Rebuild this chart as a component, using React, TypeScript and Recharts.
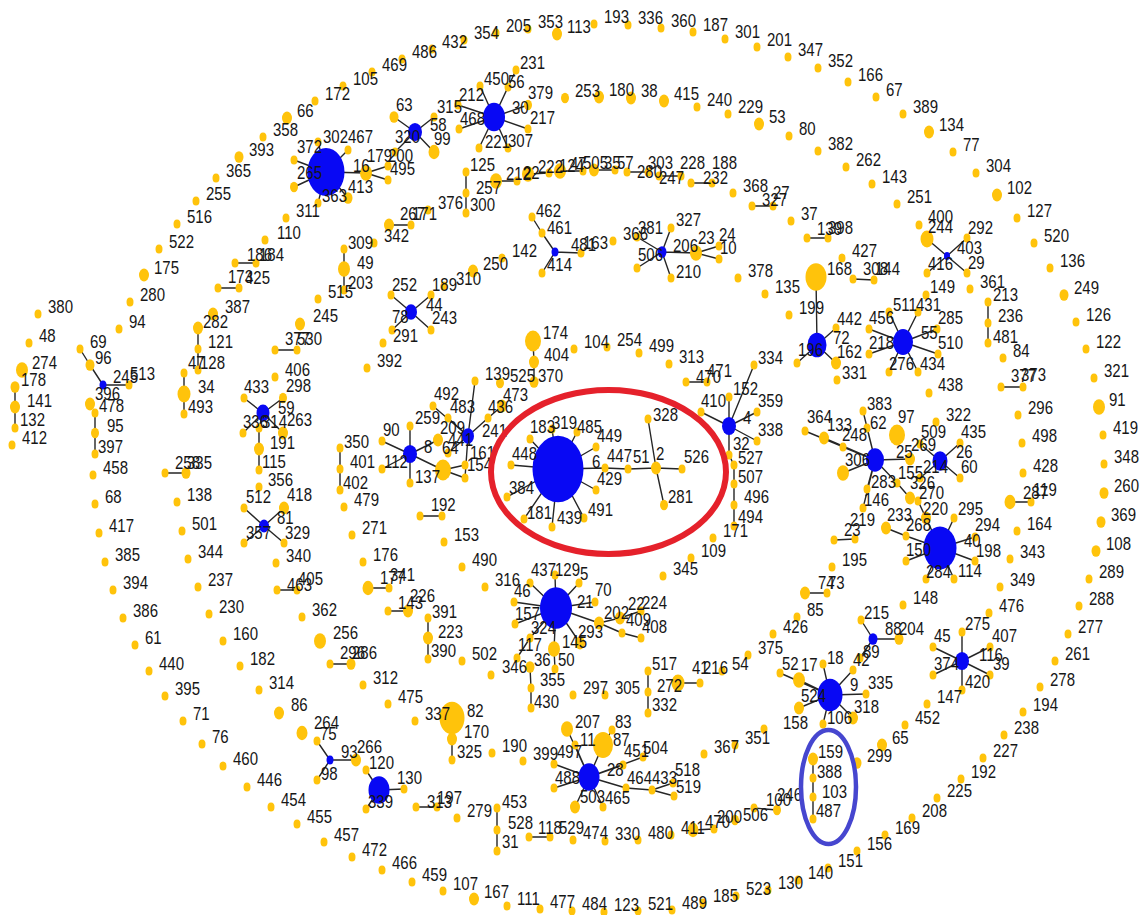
import React from 'react';
import { ComposedChart, Scatter, Line, XAxis, YAxis } from 'recharts';

// Node tuple: [id, layoutX, layoutY, weight(radius), labelDx, labelDy]
type NodeT = [string, number, number, number?, number?, number?];
type EdgeT = [string, string];

const W = 1141;
const H = 915;

const hubs: NodeT[] = [
  ['6', 558, 469, 25.5, 34, -7], ['16', 326, 172, 18.5, 27, -6], ['40', 940, 548, 16.5, 24, -7],
  ['21', 556, 608, 16, 21, -6], ['9', 830, 695, 12.5, 20, -10], ['30', 494, 117, 11, 18, -9],
  ['130#2', 379, 790, 10.5, 18, -12], ['28', 589, 777, 10.5, 18, -7], ['55', 903, 342, 10, 18, -9],
  ['72', 817, 345, 9.5, 16, -7], ['25', 875, 460, 9, 21, -8], ['26', 940, 461, 7.5, 16, -9],
  ['4', 729, 426, 7, 14, -8], ['116', 962, 661, 7, 17, -6], ['58', 415, 132, 7, 15, -7],
  ['8', 410, 454, 7, 14, -7], ['59', 263, 413, 6.5, 15, -5], ['241', 468, 436, 6, 14, -5],
  ['44', 411, 312, 6, 15, -7], ['81', 264, 526, 5, 13, -8], ['206', 662, 252, 4.5, 11, -6],
  ['88', 873, 639, 4.5, 12, -10], ['481#2', 555, 252, 3.5, 16, -7], ['245#2', 103, 385, 3.5, 10, -8],
  ['93', 330, 760, 3.5, 11, -8], ['403', 947, 256, 3, 10, -8],
];

const outerRing: NodeT[] = [
  ['94', 119, 329], ['280', 130, 302], ['175', 144, 275, 5], ['522', 159, 249], ['516', 177, 224], ['255', 196, 201],
  ['365', 216, 178], ['393', 239, 157, 4.5], ['358', 263, 137], ['66', 287, 118, 5], ['172', 315, 101], ['105', 343, 86],
  ['469', 372, 72], ['486', 402, 59], ['432', 432, 49], ['354', 464, 40], ['205', 496, 33], ['353', 528, 29],
  ['113', 557, 34, 5], ['193', 594, 24], ['336', 628, 25], ['360', 661, 28], ['187', 693, 32], ['301', 725, 39],
  ['201', 757, 47], ['347', 788, 57], ['352', 818, 68], ['166', 848, 82], ['67', 876, 97], ['389', 903, 114],
  ['134', 929, 132, 5], ['77', 953, 152], ['304', 976, 173], ['102', 997, 195, 5], ['127', 1017, 218], ['520', 1034, 243],
  ['136', 1050, 268], ['249', 1064, 295, 4.5], ['126', 1076, 322], ['122', 1086, 349], ['321', 1094, 378], ['91', 1099, 407, 6],
  ['419', 1103, 435], ['348', 1104, 464], ['260', 1104, 493, 4.5], ['369', 1101, 522, 4.5], ['108', 1096, 551, 4.5], ['289', 1089, 579],
  ['288', 1079, 606], ['277', 1068, 634], ['261', 1055, 661], ['278', 1040, 687], ['194', 1023, 712], ['238', 1004, 735],
  ['227', 983, 758], ['192', 961, 779], ['225', 937, 798], ['208', 912, 818], ['169', 885, 835], ['156', 857, 851],
  ['151', 828, 868], ['140', 798, 880], ['130', 768, 890], ['523', 736, 896], ['185', 703, 903], ['489', 672, 910],
  ['521', 638, 911], ['123', 604, 912], ['484', 572, 911], ['477', 540, 909], ['111', 507, 906], ['167', 474, 899, 5],
  ['107', 443, 891], ['459', 412, 882], ['466', 382, 870], ['472', 352, 857], ['457', 324, 842], ['455', 297, 824],
  ['454', 271, 807], ['446', 247, 787], ['460', 223, 766], ['76', 202, 744], ['71', 183, 721], ['395', 165, 696],
  ['440', 149, 671], ['61', 135, 645], ['386', 123, 618], ['394', 113, 590], ['385', 105, 562], ['417', 99, 533],
  ['68', 95, 504], ['458', 93, 475],
];

const leftNodes: NodeT[] = [
  ['380', 38, 314], ['48', 29, 343], ['274', 22, 370, 6], ['178', 15, 387, 4.5, 6, -7], ['141', 15, 407, 5, 12, -6],
  ['132', 15, 428, 3.5, 5, -8], ['412', 12, 445], ['69', 80, 349], ['96', 90, 365, 4.5, 5, -7], ['513', 129, 385, 3.5, 1, -11],
  ['396', 90, 404, 5, 5, -10], ['478', 95, 413, 3.5, 4, -7], ['95', 95, 433, 4, 12, -7], ['397', 95, 454, 3.5, 3, -7],
];

const ringB: NodeT[] = [
  ['311', 286, 218], ['110', 265, 240, 3.5, 12, -7], ['186', 235, 263, 3.5, 12, -8], ['184', 256, 263, 3.5, 3, -8],
  ['173', 218, 288, 3.5, 10, -11], ['425', 239, 288, 3.5, 6, -10], ['387', 213, 314, 5, 12, -7], ['282', 198, 328, 5, 5, -6],
  ['121', 198, 349, 3.5, 10, -7], ['128', 198, 370, 3.5, 2, -7], ['47', 184, 373, 3.5, 4, -10], ['34', 184, 394, 6.5, 14, -7],
  ['493', 184, 414, 3.5, 4, -7], ['258', 165, 473, 3.5, 10, -10], ['335#2', 186, 473, 4.5, 1, -10], ['138', 177, 502],
  ['501', 182, 531], ['344', 188, 559], ['237', 198, 587], ['230', 209, 614], ['160', 223, 641], ['182', 240, 666],
  ['314', 259, 690], ['86', 279, 713, 5, 12, -8], ['264', 302, 733, 5.5, 12, -10], ['75', 317, 741, 3.5, 3, -7],
  ['266', 356, 760, 5, 1, -13], ['98', 317, 780, 3.5, 4, -6], ['120', 366, 770, 3.5, 3, -7], ['339', 366, 809, 3.5, 2, -7],
  ['~1', 404, 789, 3.5], ['313#2', 416, 807, 3.5, 11, -5], ['197', 437, 807, 3.5, 0, -9], ['279', 457, 818],
  ['453', 497, 808, 3.5, 5, -6], ['528', 497, 830, 3.5, 11, -7], ['31', 497, 851, 3.5, 5, -9], ['118', 529, 837, 3.5, 9, -9],
  ['529', 550, 837, 3.5, 9, -9], ['474', 573, 840], ['330', 605, 841], ['480', 638, 840], ['411', 671, 835],
  ['470#2', 693, 830, 5.5, 12, -8], ['200#2', 714, 829, 3.5, 3, -12], ['506', 735, 820, 4, 8, -5], ['100', 754, 808, 3.5, 12, -8],
  ['246', 777, 810, 4, 0, -15], ['159', 813, 759, 5, 5, -7], ['388', 813, 778, 3.5, 4, -6], ['103', 813, 797, 3.5, 9, -5],
  ['487', 813, 819, 3.5, 3, -8], ['299', 857, 763, 4.5], ['65', 882, 745, 5], ['452', 905, 725], ['147', 927, 704],
  ['275', 962, 632, 3.5, 3, -8], ['407', 990, 647, 3.5, 2, -11], ['39', 990, 675, 3.5, 3, -11], ['420', 962, 690, 3.5, 3, -8],
  ['45', 933, 647, 3.5, 1, -11], ['374', 933, 675, 3.5, 1, -11], ['476', 989, 613], ['349', 1000, 587], ['343', 1010, 559],
  ['164', 1017, 531], ['287', 1010, 502, 5.5, 13, -9], ['119', 1031, 502, 3.5, 2, -12], ['428', 1023, 473], ['498', 1022, 443],
  ['296', 1018, 415], ['377', 1001, 387, 3.5, 10, -11], ['373', 1023, 387, 3.5, -2, -12], ['84', 1003, 358],
  ['481', 988, 343, 3.5, 5, -6], ['236', 988, 323], ['213', 988, 302, 3.5, 5, -7], ['361', 970, 289],
  ['400', 919, 225, 3.5, 9, -8], ['244', 927, 239, 6.5, 1, -12], ['292', 967, 238, 3.5, 1, -10], ['29', 967, 273, 3.5, 1, -10],
  ['416', 927, 273, 3.5, 1, -9], ['251', 897, 204], ['143', 872, 184], ['262', 846, 167], ['382', 818, 151], ['80', 789, 136],
  ['53', 759, 124, 5], ['229', 728, 114], ['240', 697, 107], ['415', 664, 101, 5], ['38', 631, 98, 5], ['180', 599, 97, 5],
  ['253', 565, 98, 4],
];

const topNodes: NodeT[] = [
  ['302', 318, 142, 3.5, 5, -5], ['467', 348, 150, 3.5, 0, -13], ['372', 294, 160, 3.5, 3, -13], ['265', 294, 187, 4, 3, -14],
  ['363', 318, 203, 3.5, 4, -7], ['413', 348, 198, 4.5, 0, -11], ['179', 366, 173, 6, 1, -17], ['200', 388, 166, 3.5, 0, -10],
  ['495', 388, 180, 3.5, 2, -11], ['63', 394, 117, 4.5, 2, -12], ['315', 434, 117, 3.5, 3, -10], ['99', 434, 152, 5.5, 0, -13],
  ['320', 395, 152, 3.5, 0, -15], ['231', 516, 70, 3.5, 4, -7], ['450', 480, 86, 3.5, 4, -7], ['56', 508, 87, 3.5, 0, -5],
  ['379', 528, 105, 4, 0, -12], ['217', 528, 129, 3.5, 2, -11], ['307', 508, 148, 3.5, 0, -7], ['221', 479, 148, 3.5, 6, -6],
  ['468', 459, 129, 3.5, 1, -10], ['212', 458, 105, 3.5, 1, -10], ['125', 466, 172, 3.5, 4, -7], ['257', 466, 193, 3.5, 10, -5],
  ['300', 466, 213, 3.5, 4, -8], ['376', 428, 210], ['267', 389, 225, 5, 11, -11], ['171#2', 411, 225, 3.5, 1, -11],
  ['342', 374, 243], ['309', 344, 249, 3.5, 4, -6], ['49', 344, 269, 6, 13, -6], ['203', 344, 290, 3.5, 4, -7], ['515', 318, 299],
  ['142', 502, 258], ['250', 473, 271, 5], ['310', 444, 286, 3.5, 12, -7], ['189', 431, 295, 3.5, 1, -10],
  ['252', 391, 295, 3.5, 1, -10], ['78', 392, 330, 3.5, 0, -13], ['243', 431, 330, 3.5, 1, -12], ['291', 383, 343],
  ['392', 367, 368], ['245', 300, 324, 5, 13, -8], ['377#2', 275, 350, 3.5, 10, -11], ['530', 297, 350, 3.5, 0, -11],
  ['406', 275, 377], ['462', 532, 217, 3.5, 4, -6], ['461', 542, 233, 3.5, 5, -5], ['414', 542, 273, 3.5, 5, -8],
  ['163', 581, 253, 3.5, 2, -10], ['366', 613, 241], ['381', 637, 237, 3.5, 1, -9], ['327', 671, 228, 3.5, 5, -8],
  ['23', 696, 253, 6, 2, -15], ['24', 719, 246, 3.5, 0, -11], ['10', 719, 259, 3.5, 1, -11], ['210', 671, 278, 3.5, 5, -6],
  ['506#2', 637, 268, 3.5, 1, -13],
  ['212#r', 496, 181, 6], ['22#r', 517, 181, 3.5, 6, -8], ['222#r', 528, 174, 6], ['124#r', 549, 173], ['47#r', 560, 171, 6],
  ['505', 583, 171, 3.5, 0, -8], ['35#r', 594, 170, 5], ['57', 615, 170, 3.5, 2, -7], ['280#r', 627, 172, 3.5, 10, 0],
  ['303', 648, 172, 3.5, 0, -9], ['247', 659, 176, 3.5, 0, 2], ['228', 681, 176, 3.5, -1, -13], ['232#r', 691, 183, 3.5, 12, -5],
  ['188', 712, 183, 3.5, 0, -20],
  ['368', 733, 193], ['327#2', 752, 206, 3.5, 10, -6], ['27', 773, 206, 3.5, 0, -13], ['37', 791, 221],
  ['139#2', 807, 238, 3.5, 10, -9], ['398', 828, 238, 3.5, 0, -10], ['378', 738, 278], ['135', 765, 294], ['427', 842, 258],
  ['308', 853, 279, 3.5, 10, -10], ['144', 874, 280, 3.5, 1, -11], ['168', 816, 277, 10.5, 11, -8], ['199', 789, 315],
  ['149', 926, 295, 3.5, 4, -8],
];

const midLeftNodes: NodeT[] = [
  ['433', 244, 398, 3.5, 0, -11], ['298', 283, 398, 4, 3, -12], ['336#2', 243, 433, 3.5, 0, -11], ['263', 283, 433, 5, 4, -13],
  ['314#2', 259, 428, 3.5, 3, -6], ['191', 259, 449, 5, 11, -6], ['115', 259, 470, 3.5, 3, -8], ['356', 259, 487, 3.5, 9, -7],
  ['512', 244, 508, 3.5, 2, -11], ['418', 284, 508, 5, 3, -13], ['357', 244, 543, 3.5, 2, -10], ['329', 284, 543, 3.5, 1, -10],
  ['340', 276, 563], ['463', 277, 590, 3.5, 10, -5], ['405', 297, 590, 3.5, 1, -11], ['362', 302, 617],
  ['256', 320, 641, 6, 13, -8], ['296#2', 330, 664, 3.5, 10, -11], ['286', 351, 664, 4.5, 1, -11], ['312', 363, 685],
  ['475', 388, 704], ['337', 415, 721], ['82', 452, 718, 12.5, 15, -7], ['170', 452, 739, 5, 12, -7], ['325', 452, 760, 3.5, 5, -8],
  ['190', 492, 753], ['399', 523, 761], ['350', 340, 448, 3.5, 4, -6], ['401', 340, 469], ['402', 340, 490, 3.5, 3, -7],
  ['479', 344, 507], ['1', 420, 516, 3.5, 11, -11], ['92', 442, 516, 3.5, -3, -11], ['271', 352, 535], ['153', 444, 542],
  ['490', 462, 567], ['176', 363, 562], ['177', 368, 588, 5.5, 12, -10], ['341', 389, 588, 3.5, 1, -13], ['316', 485, 587],
  ['143#2', 388, 611, 3.5, 10, -8], ['226', 408, 611, 5, 2, -15], ['391', 428, 618, 3.5, 4, -6], ['223', 428, 638, 5, 10, -6],
  ['390', 428, 659, 3.5, 3, -8], ['502', 462, 661], ['492', 433, 406, 3.5, 1, -12], ['483', 448, 418, 3.5, 2, -11],
  ['209', 438, 440, 5, 2, -12], ['441', 448, 453, 3.5, 0, -13], ['161', 465, 465, 3.5, 5, -12], ['154', 465, 478, 3.5, 2, -13],
  ['139', 475, 381], ['436', 488, 418, 3.5, 0, -11], ['473', 502, 406, 5, 1, -11], ['259', 410, 426, 3.5, 5, -8],
  ['90', 382, 441, 3.5, 1, -11], ['112', 382, 469, 3.5, 2, -7], ['137', 410, 483, 3.5, 5, -6], ['64', 443, 470, 8, -1, -22],
  ['174', 533, 341, 8, 10, -8], ['404', 534, 362, 5], ['370', 534, 382, 4.5, 4, -6], ['525', 500, 383, 4],
];

const centerNodes: NodeT[] = [
  ['104', 574, 349], ['254', 607, 347], ['499', 639, 353], ['313', 669, 364], ['470', 686, 382, 3.5, 10, -5],
  ['471', 707, 382, 3.5, 0, -11], ['410', 701, 412, 3.5, 0, -11], ['152', 729, 397, 3.5, 4, -8], ['334', 754, 365, 3.5, 4, -7],
  ['359', 757, 412, 3.5, 1, -11], ['338', 757, 441, 3.5, 1, -11], ['32', 729, 455, 3.5, 4, -11], ['527', 734, 465, 3.5, 4, -7],
  ['507', 734, 484, 3.5, 4, -7], ['496', 734, 505, 3.5, 10, -8], ['494', 734, 526, 3.5, 4, -9], ['171', 713, 538],
  ['109', 691, 558], ['345', 663, 576], ['183', 530, 439, 3.5, 0, -12], ['319', 552, 429, 3.5, 0, -6],
  ['485', 577, 432, 3.5, 0, -5], ['449', 596, 447, 3.5, 1, -11], ['448', 511, 465, 3.5, 1, -11], ['447', 605, 468, 3.5, 2, -12],
  ['51', 628, 469, 3.5, 5, -12], ['2', 656, 468, 5, 0, -14], ['328', 648, 419, 3.5, 5, -4], ['526', 682, 469, 3.5, 2, -12],
  ['281', 664, 505, 4, 4, -8], ['429', 596, 490, 3.5, 1, -11], ['491', 584, 518, 3.5, 4, -8], ['439', 552, 527, 3.5, 5, -9],
  ['181', 524, 519, 3.5, 3, -6], ['384', 507, 497, 3.5, 2, -9],
];

const rightNodes: NodeT[] = [
  ['511', 889, 312, 3.5, 4, -7], ['431', 918, 312, 3.5, -2, -7], ['456', 869, 329, 3.5, 0, -11], ['285', 937, 329, 3.5, 1, -11],
  ['218', 869, 354, 3.5, 0, -11], ['510', 938, 354, 3.5, 0, -11], ['276', 889, 372, 3.5, 0, -8], ['434', 918, 372, 3.5, 2, -8],
  ['438', 929, 393, 3.5, 9, -8], ['442', 836, 328, 3.5, 1, -9], ['196', 797, 363, 3.5, 1, -13], ['162', 836, 363, 5, 1, -11],
  ['331', 837, 380, 3.5, 5, -7], ['364', 805, 431, 3.5, 2, -14], ['133', 824, 438, 5, 3, -13], ['248', 843, 447, 3.5, -1, -12],
  ['383', 863, 411, 3.5, 4, -7], ['62', 867, 428, 3.5, 3, -5], ['97', 897, 435, 8, 1, -18], ['269', 910, 459, 5, 1, -14],
  ['306', 843, 473, 6, 2, -13], ['155', 897, 483, 3.5, 1, -10], ['283', 867, 489, 3.5, 4, -7], ['146', 863, 508, 3.5, 1, -8],
  ['326', 910, 498, 5, 0, -15], ['270', 918, 501, 3.5, 1, -8], ['509', 920, 444, 3.5, 1, -12], ['322', 936, 422],
  ['435', 960, 443, 3.5, 1, -11], ['60', 960, 478, 3.5, 1, -11], ['214', 920, 478, 3.5, 3, -11], ['220', 926, 518, 5, -3, -9],
  ['295', 954, 518, 3.5, 4, -9], ['294', 975, 537, 3.5, 0, -12], ['198', 975, 561, 3.5, 1, -10], ['114', 954, 579, 3.5, 4, -8],
  ['284', 926, 579, 3.5, 0, -7], ['150', 906, 561, 3.5, 0, -11], ['268', 906, 536, 3.5, 0, -11], ['233', 886, 528, 5, 1, -13],
  ['23#2', 834, 540, 3.5, 10, -10], ['219', 855, 539, 3.5, -5, -19], ['195', 832, 567], ['74', 805, 593, 5, 13, -10],
  ['73', 827, 593, 3.5, 1, -10], ['85', 797, 617], ['148', 903, 605], ['426', 773, 634], ['375', 748, 655], ['54', 722, 671],
  ['52', 780, 673, 3.5, 2, -9], ['17', 799, 680, 6, 2, -15], ['18', 823, 664, 3.5, 4, -6], ['42', 853, 670, 3.5, 0, -10],
  ['335', 866, 694, 3.5, 2, -11], ['318', 853, 718, 5, 1, -11], ['106', 823, 724, 3.5, 4, -6], ['524', 799, 708, 5, 2, -12],
  ['215', 861, 620, 3.5, 3, -7], ['204', 899, 639, 4.5, 0, -10], ['89', 860, 658, 3.5, 3, -6], ['158', 764, 729, 3.5, 19, -6],
  ['351', 735, 745], ['367', 704, 754], ['41', 678, 683, 6.5, 14, -15], ['216', 700, 683, 3.5, 3, -15],
  ['517', 648, 671, 3.5, 4, -7], ['272', 648, 692, 3.5, 9, -6], ['332', 648, 713, 3.5, 4, -8], ['297', 573, 695], ['305', 605, 695],
];

const bottomNodes: NodeT[] = [
  ['437', 530, 583, 3.5, 1, -13], ['129', 555, 575, 3.5, 0, -5], ['5', 579, 583, 3.5, 1, -9], ['46', 514, 602, 3.5, 0, -11],
  ['70', 595, 602, 3.5, 0, -12], ['157', 515, 624, 3.5, 0, -10], ['324', 530, 638, 3.5, 1, -10], ['117', 517, 658, 3.5, 1, -13],
  ['346', 491, 675, 3.5, 11, -8], ['36', 530, 667, 4.5, 4, -7], ['355', 531, 688, 3.5, 9, -8], ['430', 531, 708, 3.5, 3, -6],
  ['145', 554, 649, 6, 8, -7], ['50', 555, 669, 3.5, 3, -9], ['202', 599, 623, 5, 5, -10], ['22', 620, 618, 5, 8, -14],
  ['224', 641, 611, 3.5, 1, -8], ['409', 622, 633, 3.5, 4, -13], ['408', 641, 638, 3.5, 1, -11], ['293', 580, 643, 5, -2, -11],
  ['207', 567, 729, 6, 8, -7], ['83', 612, 730, 3.5, 3, -8], ['87', 603, 745, 10, 10, -5], ['11', 575, 745, 3.5, 5, -5],
  ['451', 623, 765, 3.5, 1, -14], ['504', 643, 757, 3.5, 0, -9], ['464', 626, 788, 3.5, 1, -10], ['433#2', 652, 790, 3.5, 0, -12],
  ['518', 673, 783, 3.5, 2, -13], ['519', 674, 796, 3.5, 2, -9], ['503', 575, 807, 5, 5, -10], ['465', 603, 807, 3.5, 2, -9],
  ['497', 554, 764, 3.5, 3, -12], ['488', 554, 788, 3.5, 1, -10],
];

const star = (hub: string, leaves: string[]): EdgeT[] => leaves.map((l) => [hub, l] as EdgeT);

const edges: EdgeT[] = [
  ['178', '141'], ['141', '132'], ['69', '96'], ['96', '245#2'], ['245#2', '513'], ['478', '95'], ['95', '397'],
  ['186', '184'], ['173', '425'], ['282', '121'], ['121', '128'], ['47', '34'], ['34', '493'], ['258', '335#2'],
  ...star('93', ['75', '266', '98']), ...star('130#2', ['120', '339', '~1']), ['313#2', '197'], ['453', '528'], ['528', '31'],
  ['118', '529'], ['470#2', '200#2'], ['100', '246'], ['159', '388'], ['388', '103'], ['103', '487'],
  ...star('116', ['275', '407', '39', '420', '45', '374']), ['287', '119'], ['377', '373'], ['213', '236'], ['236', '481'],
  ...star('403', ['244', '292', '29', '416']),
  ...star('16', ['302', '467', '372', '265', '363', '413', '179']), ['179', '200'], ['179', '495'],
  ...star('58', ['63', '315', '99', '320']), ...star('30', ['231', '450', '56', '379', '217', '307', '221', '468', '212']),
  ['125', '257'], ['257', '300'], ['267', '171#2'], ['309', '49'], ['49', '203'], ...star('44', ['252', '189', '78', '243']),
  ['377#2', '530'], ['481#2', '461'], ['461', '462'], ['481#2', '414'], ['481#2', '163'],
  ...star('206', ['381', '327', '23', '210', '506#2']), ['23', '24'], ['23', '10'],
  ['212#r', '22#r'], ['222#r', '124#r'], ['47#r', '505'], ['35#r', '57'], ['280#r', '303'], ['247', '228'], ['232#r', '188'],
  ['327#2', '27'], ['139#2', '398'], ['308', '144'], ['72', '168'],
  ...star('59', ['433', '298', '336#2', '263', '314#2']), ['314#2', '191'], ['191', '115'],
  ...star('81', ['512', '418', '357', '329']), ['463', '405'], ['296#2', '286'], ['82', '170'], ['170', '325'],
  ['350', '401'], ['401', '402'], ['1', '92'], ['177', '341'], ['143#2', '226'], ['391', '223'], ['223', '390'],
  ...star('8', ['259', '90', '112', '137', '64', '209']), ...star('241', ['492', '483', '139', '436', '441', '154']),
  ['436', '473'], ['64', '161'], ['64', '154'], ['174', '404'], ['404', '370'], ['470', '471'],
  ...star('4', ['410', '152', '334', '359', '338', '32']), ['32', '527'], ['527', '507'], ['507', '496'], ['496', '494'],
  ...star('6', ['183', '319', '485', '449', '448', '447', '429', '491', '439', '181', '384']), ['447', '51'], ['51', '2'],
  ...star('2', ['328', '526', '281']),
  ...star('55', ['511', '431', '456', '285', '218', '510', '276', '434']), ...star('72', ['442', '196', '162']),
  ...star('25', ['364', '133', '248', '383', '62', '269', '306', '155', '283', '146']), ['155', '326'],
  ...star('26', ['509', '435', '60', '214']), ...star('40', ['220', '295', '294', '198', '114', '284', '150', '268']),
  ['268', '233'], ['270', '220'], ['23#2', '219'], ['74', '73'],
  ...star('9', ['52', '17', '18', '42', '335', '318', '106', '524']), ...star('88', ['215', '204', '89']),
  ['41', '216'], ['517', '272'], ['272', '332'],
  ...star('21', ['437', '129', '5', '46', '70', '157', '324', '145', '202', '293']), ['324', '117'], ['145', '50'],
  ['36', '355'], ['355', '430'], ['202', '22'], ['22', '224'], ['202', '409'], ['409', '408'],
  ...star('28', ['207', '87', '11', '451', '504', '464', '503', '465', '497', '488']), ['87', '83'], ['464', '433#2'],
  ['433#2', '518'], ['433#2', '519'],
];

const BLUE = '#0808f4';
const YELLOW = '#ffc30b';

type P = { id: string; t: string; x: number; y: number; r: number; hub: boolean; lx: number; ly: number };
const nodeMap = new Map<string, P>();
const mk = (n: NodeT, hub: boolean): P => {
  const p: P = {
    id: n[0],
    t: n[0].startsWith('~') ? '' : n[0].split('#')[0],
    x: n[1],
    y: n[2],
    r: n[3] ?? 3.5,
    hub,
    lx: n[1] + (n[4] ?? 10),
    ly: n[2] + (n[5] ?? -7),
  };
  nodeMap.set(p.id, p);
  return p;
};

const yellowPts = [outerRing, leftNodes, ringB, topNodes, midLeftNodes, centerNodes, rightNodes, bottomNodes]
  .flat()
  .map((n) => mk(n, false));
const hubPts = hubs.map((n) => mk(n, true));
const allPts = [...yellowPts, ...hubPts];
const labelPts = allPts.filter((p) => p.t).map((p) => ({ x: p.lx, y: p.ly, t: p.t }));

const edgePts: { x: number; y: number | null }[] = [];
edges.forEach(([a, b]) => {
  const A = nodeMap.get(a);
  const B = nodeMap.get(b);
  if (!A || !B) return;
  edgePts.push({ x: A.x, y: A.y }, { x: B.x, y: B.y }, { x: B.x, y: null });
});

const highlights = [
  { x: 608.5, y: 472, rx: 117.5, ry: 82, c: '#e5212b', w: 6 },
  { x: 828.5, y: 787, rx: 27.5, ry: 57, c: '#4646cf', w: 4.5 },
];

const NodeShape = (p: any) => {
  const d = p.payload as P;
  return <ellipse cx={p.cx} cy={p.cy} rx={d.r} ry={d.r * 1.3} fill={d.hub ? BLUE : YELLOW} />;
};

const LabelShape = (p: any) => {
  const d = p.payload;
  return (
    <text
      transform={`translate(${p.cx},${p.cy}) scale(1,1.25)`}
      x={0}
      y={0}
      fontSize={15}
      fontFamily="'Liberation Sans', Arial, sans-serif"
      fill="#161616"
      dominantBaseline="central"
    >
      {d.t}
    </text>
  );
};

const RingShape = (p: any) => {
  const d = p.payload;
  return <ellipse cx={p.cx} cy={p.cy} rx={d.rx} ry={d.ry} fill="none" stroke={d.c} strokeWidth={d.w} />;
};

export default function App() {
  return (
    <div style={{ position: 'absolute', left: 0, top: 0, width: W, height: H, background: '#fff' }}>
      <ComposedChart width={W} height={H} margin={{ top: 0, right: 0, bottom: 0, left: 0 }}>
        <XAxis type="number" dataKey="x" domain={[0, W]} hide allowDataOverflow height={0} />
        <YAxis type="number" dataKey="y" domain={[0, H]} reversed hide allowDataOverflow width={0} />
        <Line
          data={edgePts}
          dataKey="y"
          stroke="#262626"
          strokeWidth={1.4}
          dot={false}
          activeDot={false}
          connectNulls={false}
          isAnimationActive={false}
        />
        <Scatter data={yellowPts} dataKey="y" shape={NodeShape} isAnimationActive={false} />
        <Scatter data={hubPts} dataKey="y" shape={NodeShape} isAnimationActive={false} />
        <Scatter data={labelPts} dataKey="y" shape={LabelShape} isAnimationActive={false} />
        <Scatter data={highlights} dataKey="y" shape={RingShape} isAnimationActive={false} />
      </ComposedChart>
    </div>
  );
}
